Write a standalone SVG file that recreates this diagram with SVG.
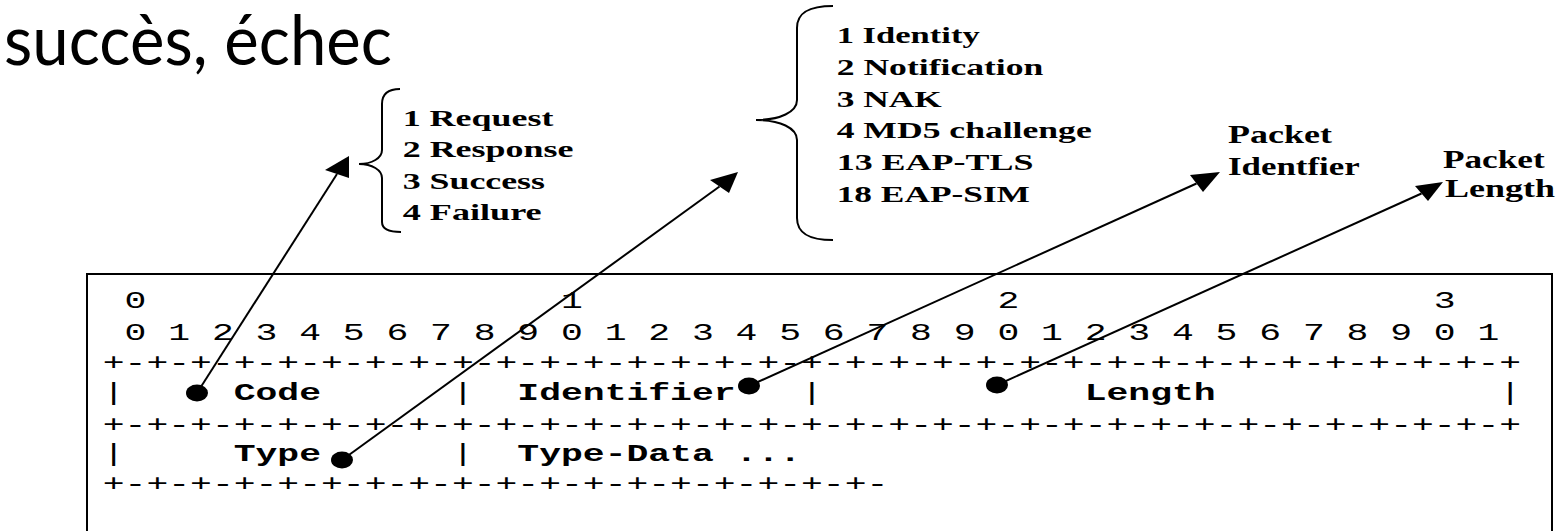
<svg xmlns="http://www.w3.org/2000/svg" width="1560" height="531" viewBox="0 0 1560 531">
<style>
.mono{font-family:"Liberation Mono","DejaVu Sans Mono",monospace;font-size:23px;fill:#000}
.mb{font-weight:bold}
.ser{font-family:"Liberation Serif","Times New Roman",serif;font-weight:bold;fill:#000}
.b1{font-size:23px}
.b2{font-size:23.5px}
.pk{font-size:24.5px}
.title{font-family:Lato,"Open Sans",sans-serif;font-size:70px;fill:#000}
.frame{stroke:#000;stroke-width:2;fill:none}
.ln{stroke:#000;stroke-width:2;fill:none}
.brace{stroke:#000;stroke-width:2;fill:none}
.dot{fill:#000}
.head{fill:#000}
</style>
<rect width="1560" height="531" fill="#fff"/>

<g id="title">
<text class="title" x="4" y="65" textLength="388" lengthAdjust="spacingAndGlyphs">succès, échec</text>
</g>

<g id="packet-frame">
<rect class="frame" x="87" y="274" width="1465" height="270"/>
</g>

<g id="bit-ruler" class="mono">
<text x="124.62" y="308" textLength="21.82" lengthAdjust="spacingAndGlyphs">0</text>
<text x="561.02" y="308" textLength="21.82" lengthAdjust="spacingAndGlyphs">1</text>
<text x="997.42" y="308" textLength="21.82" lengthAdjust="spacingAndGlyphs">2</text>
<text x="1433.82" y="308" textLength="21.82" lengthAdjust="spacingAndGlyphs">3</text>
<text x="124.62" y="340" textLength="1374.66" lengthAdjust="spacingAndGlyphs">0 1 2 3 4 5 6 7 8 9 0 1 2 3 4 5 6 7 8 9 0 1 2 3 4 5 6 7 8 9 0 1</text>
<text x="102.8" y="369.6" textLength="1418.3" lengthAdjust="spacingAndGlyphs">+-+-+-+-+-+-+-+-+-+-+-+-+-+-+-+-+-+-+-+-+-+-+-+-+-+-+-+-+-+-+-+-+</text>
</g>

<g id="row-1" class="mono">
<text x="102.8" y="400" textLength="21.82" lengthAdjust="spacingAndGlyphs">|</text>
<text x="451.92" y="400" textLength="21.82" lengthAdjust="spacingAndGlyphs">|</text>
<text x="801.04" y="400" textLength="21.82" lengthAdjust="spacingAndGlyphs">|</text>
<text x="1499.28" y="400" textLength="21.82" lengthAdjust="spacingAndGlyphs">|</text>
<text x="102.8" y="432" textLength="1418.3" lengthAdjust="spacingAndGlyphs">+-+-+-+-+-+-+-+-+-+-+-+-+-+-+-+-+-+-+-+-+-+-+-+-+-+-+-+-+-+-+-+-+</text>
</g>
<g id="field-code" class="mono mb"><text x="233.72" y="400" textLength="87.28" lengthAdjust="spacingAndGlyphs">Code</text></g>
<g id="field-identifier" class="mono mb"><text x="517.38" y="400" textLength="218.2" lengthAdjust="spacingAndGlyphs">Identifier</text></g>
<g id="field-length" class="mono mb"><text x="1084.7" y="400" textLength="130.92" lengthAdjust="spacingAndGlyphs">Length</text></g>

<g id="row-2" class="mono">
<text x="102.8" y="461" textLength="21.82" lengthAdjust="spacingAndGlyphs">|</text>
<text x="451.92" y="461" textLength="21.82" lengthAdjust="spacingAndGlyphs">|</text>
<text x="102.8" y="491" textLength="785.52" lengthAdjust="spacingAndGlyphs">+-+-+-+-+-+-+-+-+-+-+-+-+-+-+-+-+-+-</text>
</g>
<g id="field-type" class="mono mb"><text x="233.72" y="461" textLength="87.28" lengthAdjust="spacingAndGlyphs">Type</text></g>
<g id="field-type-data" class="mono mb"><text x="517.38" y="461" textLength="283.66" lengthAdjust="spacingAndGlyphs" xml:space="preserve">Type-Data ...</text></g>

<g id="code-values">
<path class="brace" d="M400,89 C388,89 382,94 382,104 L382,150 C382,158 372,164 359,164 C372,164 382,170 382,178 L382,222 C382,229 388,232 401,232"/>
<text class="ser b1" x="402.7" y="126" textLength="150.7" lengthAdjust="spacingAndGlyphs">1 Request</text>
<text class="ser b1" x="402.7" y="157.3" textLength="170.7" lengthAdjust="spacingAndGlyphs">2 Response</text>
<text class="ser b1" x="402.7" y="188.6" textLength="142.3" lengthAdjust="spacingAndGlyphs">3 Success</text>
<text class="ser b1" x="402.7" y="220" textLength="139" lengthAdjust="spacingAndGlyphs">4 Failure</text>
</g>

<g id="type-values">
<path class="brace" d="M833,6 C810,6 797,12 797,28 L797,100 C797,112 780,120 756,120 C780,120 797,128 797,140 L797,218 C797,234 810,240 833,240"/>
<text class="ser b2" x="836.7" y="43" textLength="143" lengthAdjust="spacingAndGlyphs">1 Identity</text>
<text class="ser b2" x="836.7" y="75" textLength="206.7" lengthAdjust="spacingAndGlyphs">2 Notification</text>
<text class="ser b2" x="836.7" y="106.6" textLength="105" lengthAdjust="spacingAndGlyphs">3 NAK</text>
<text class="ser b2" x="836.7" y="138.3" textLength="255" lengthAdjust="spacingAndGlyphs">4 MD5 challenge</text>
<text class="ser b2" x="836.7" y="170" textLength="196.7" lengthAdjust="spacingAndGlyphs">13 EAP-TLS</text>
<text class="ser b2" x="836.7" y="201.7" textLength="193.3" lengthAdjust="spacingAndGlyphs">18 EAP-SIM</text>
</g>

<g id="packet-identifier">
<text class="ser pk" x="1228" y="143" textLength="104" lengthAdjust="spacingAndGlyphs">Packet</text>
<text class="ser pk" x="1228" y="175" textLength="131.7" lengthAdjust="spacingAndGlyphs">Identfier</text>
</g>

<g id="packet-length">
<text class="ser pk" x="1443" y="168.3" textLength="101.7" lengthAdjust="spacingAndGlyphs">Packet</text>
<text class="ser pk" x="1445" y="196.7" textLength="110" lengthAdjust="spacingAndGlyphs">Length</text>
</g>

<g id="connectors">
<line class="ln" x1="197" y1="393" x2="337" y2="174"/>
<polygon class="head" points="349,156 325,170 349,178"/>
<ellipse class="dot" cx="197" cy="393" rx="11" ry="8.5"/>

<line class="ln" x1="342" y1="460" x2="719.5" y2="186.5"/>
<polygon class="head" points="738,172 710,180 729,193"/>
<ellipse class="dot" cx="342" cy="460" rx="11" ry="8.5"/>

<line class="ln" x1="749" y1="386" x2="1196.5" y2="183.5"/>
<polygon class="head" points="1220,172 1190,175 1203,192"/>
<ellipse class="dot" cx="749" cy="386" rx="11" ry="8.5"/>

<line class="ln" x1="997" y1="385" x2="1421.5" y2="193.5"/>
<polygon class="head" points="1443,182 1415,186 1428,201"/>
<ellipse class="dot" cx="997" cy="385" rx="11" ry="8.5"/>
</g>
</svg>
